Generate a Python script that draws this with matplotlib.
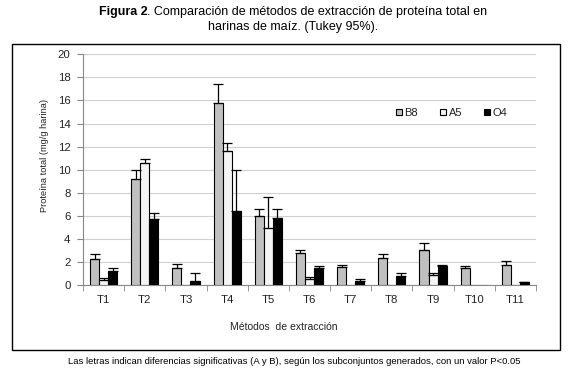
import matplotlib
matplotlib.use("Agg")
import matplotlib.pyplot as plt
import numpy as np
from matplotlib.patches import Rectangle

categories = ["T1", "T2", "T3", "T4", "T5", "T6", "T7", "T8", "T9", "T10", "T11"]
b8 = [2.25, 9.2, 1.5, 15.8, 5.95, 2.8, 1.53, 2.3, 3.0, 1.45, 1.7]
b8_top = [2.7, 10.0, 1.8, 17.4, 6.6, 3.05, 1.73, 2.65, 3.6, 1.68, 2.05]
a5 = [0.4, 10.6, 0.0, 11.6, 4.95, 0.5, 0.0, 0.0, 0.84, 0.0, 0.0]
a5_top = [0.6, 10.95, 0.0, 12.35, 7.6, 0.72, 0.0, 0.0, 1.0, 0.0, 0.0]
o4 = [1.2, 5.75, 0.35, 6.45, 5.85, 1.45, 0.32, 0.75, 1.68, 0.0, 0.26]
o4_top = [1.45, 6.2, 1.0, 10.0, 6.6, 1.62, 0.55, 1.0, 1.7, 0.0, 0.3]
series = ["B8", "A5", "O4"]
yticks = list(range(0, 21, 2))

plt.rcParams['font.family'] = ['Liberation Sans', 'DejaVu Sans']

W, H = 571, 378
fig = plt.figure(figsize=(W/100, H/100), dpi=100)
ax = fig.add_axes([83/W, 1-285/H, 453/W, (285-54.3)/H])

# outer chart box
fig.patches.append(Rectangle((12/W, 1-350/H), 548/W, 306/H, transform=fig.transFigure,
                             fill=False, edgecolor='black', linewidth=1.0))

x = np.arange(len(categories))
bw = 0.22
colors = ['#c0c0c0', '#f4f4f4', '#000000']
data = [(b8, b8_top), (a5, a5_top), (o4, o4_top)]
for i, (vals, tops) in enumerate(data):
    pos = x + (i-1)*bw
    vals = np.array(vals); tops = np.array(tops)
    ax.bar(pos, vals, width=bw, color=colors[i], edgecolor='black', linewidth=0.8,
           label=series[i], zorder=3)
    err = np.clip(tops - vals, 0, None)
    mask = err > 0
    ax.errorbar(pos[mask], vals[mask], yerr=[np.zeros(mask.sum()), err[mask]], fmt='none',
                ecolor='black', elinewidth=0.9, capsize=3.5, capthick=0.9, zorder=4)

ax.set_ylim(0, 20)
ax.set_xlim(-0.5, len(categories)-0.5)
ax.set_yticks(yticks)
ax.set_yticklabels([str(v) for v in yticks], fontsize=8.2, color='#222222')
ax.set_xticks(x)
ax.set_xticklabels(categories, fontsize=8.2, color='#222222')
ax.set_xticks(np.arange(-0.5, len(categories)), minor=True)
ax.tick_params(axis='x', which='major', length=0, pad=7)
ax.tick_params(axis='x', which='minor', length=4, color='#888888')
ax.tick_params(axis='y', length=4, color='#888888', pad=5)
ax.yaxis.grid(True, color='#d0d0d0', linewidth=0.8, zorder=0)
ax.set_axisbelow(True)
for s in ['top', 'right']:
    ax.spines[s].set_visible(False)
for s in ['left', 'bottom']:
    ax.spines[s].set_color('#888888')
    ax.spines[s].set_linewidth(0.8)

fig.text(45/W, 1-155.5/H, "Proteína total (mg/g harina)", fontsize=6.7, rotation=90,
         ha='center', va='center', color='#222222')
fig.text(284/W, 1-327/H, "Métodos  de extracción", fontsize=7.5, ha='center', va='center',
         color='#222222')

leg = ax.legend(loc='center left', bbox_to_anchor=((396-83)/453, 1-(113-54.3)/(285-54.3)),
                ncol=3, frameon=False, fontsize=8, handlelength=0.55, handleheight=0.55,
                columnspacing=2.0, handletextpad=0.2, borderaxespad=0, borderpad=0)
for t in leg.get_texts():
    t.set_color('#222222')

# title with bold part
fig.canvas.draw()
r = fig.canvas.get_renderer()
t1 = fig.text(0, 1-12.5/H, "Figura 2", fontsize=9, fontweight='bold', ha='left', va='center')
t2 = fig.text(0, 1-12.5/H, ". Comparación de métodos de extracción de proteína total en",
              fontsize=9, ha='left', va='center')
w1 = t1.get_window_extent(r).width
w2 = t2.get_window_extent(r).width
start = 293 - (w1 + w2)/2
t1.set_x(start/W)
t2.set_x((start + w1)/W)
fig.text(293/W, 1-27/H, "harinas de maíz. (Tukey 95%).", fontsize=9, ha='center', va='center')

fig.text(294/W, 1-362/H,
         "Las letras indican diferencias significativas (A y B), según los subconjuntos generados, con un valor P<0.05",
         fontsize=6.8, ha='center', va='center')

fig.savefig("out.png", dpi=100)
